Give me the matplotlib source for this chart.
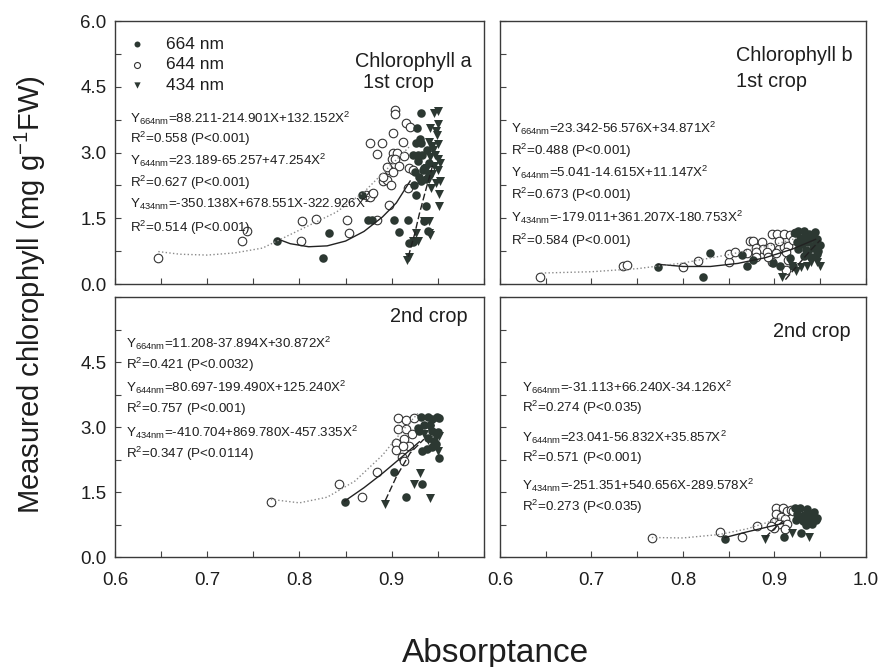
import matplotlib
matplotlib.use('Agg')
import matplotlib.pyplot as plt
from matplotlib.ticker import MultipleLocator

plt.rcParams['font.family'] = ['Liberation Sans', 'DejaVu Sans']
plt.rcParams['mathtext.fontset'] = 'custom'
plt.rcParams['mathtext.rm'] = 'Liberation Sans'
plt.rcParams['mathtext.it'] = 'Liberation Sans:italic'
plt.rcParams['mathtext.default'] = 'regular'

# ---- data ----
# Chlorophyll a, 1st crop (top left)
a1_664_x = [0.776, 0.825, 0.832, 0.868, 0.874, 0.879, 0.902, 0.908, 0.918, 0.919, 0.923, 0.924, 0.926, 0.937,
            0.939, 0.935, 0.926, 0.932, 0.923, 0.928, 0.933, 0.925, 0.930, 0.935, 0.940, 0.937, 0.932, 0.938,
            0.927, 0.929, 0.934, 0.940, 0.932, 0.931]
a1_664_y = [0.97, 0.60, 1.16, 2.03, 1.46, 1.46, 1.46, 1.19, 1.46, 0.94, 0.96, 2.26, 2.03, 1.77,
            1.20, 1.44, 3.22, 3.22, 2.94, 2.94, 2.94, 2.55, 2.45, 2.65, 2.75, 2.40, 2.35, 3.05,
            3.55, 2.80, 2.60, 2.50, 3.90, 3.30]
a1_644_x = [0.647, 0.738, 0.743, 0.802, 0.803, 0.818, 0.852, 0.854, 0.872, 0.879, 0.884, 0.877, 0.890, 0.884,
            0.891, 0.897, 0.877, 0.880, 0.895, 0.899, 0.891, 0.897, 0.901, 0.906, 0.900, 0.904, 0.908, 0.895,
            0.901, 0.912, 0.919, 0.923, 0.918, 0.901, 0.904, 0.904, 0.915, 0.920, 0.913]
a1_644_y = [0.60, 0.99, 1.22, 0.97, 1.44, 1.48, 1.46, 1.16, 2.02, 2.06, 1.46, 3.21, 3.21, 2.97,
            2.34, 1.80, 1.99, 2.08, 2.37, 2.26, 2.45, 2.60, 2.98, 2.98, 2.85, 2.85, 2.70, 2.68,
            2.55, 3.25, 2.65, 2.60, 2.19, 3.45, 3.97, 3.88, 3.68, 3.59, 2.93]
a1_434_x = [0.917, 0.919, 0.923, 0.928, 0.926, 0.935, 0.940, 0.940, 0.942, 0.951, 0.951, 0.952, 0.950, 0.946,
            0.950, 0.942, 0.948, 0.950, 0.944, 0.940, 0.947, 0.950, 0.942, 0.946, 0.950, 0.944, 0.940, 0.948,
            0.938, 0.945, 0.952, 0.943, 0.949]
a1_434_y = [0.55, 0.62, 0.97, 0.97, 1.16, 1.44, 1.44, 1.16, 1.12, 1.77, 2.05, 2.34, 3.95, 3.90,
            3.65, 3.55, 3.50, 3.20, 3.15, 3.25, 2.95, 2.85, 2.90, 2.70, 2.60, 2.50, 2.40, 2.30,
            2.65, 3.05, 2.75, 2.20, 3.40]
a1_fit_664_x = [0.776, 0.79, 0.81, 0.83, 0.85, 0.87, 0.89, 0.905, 0.92]
a1_fit_664_y = [1.03, 0.92, 0.85, 0.87, 0.98, 1.20, 1.53, 1.85, 2.35]
a1_fit_644_x = [0.647, 0.67, 0.70, 0.73, 0.76, 0.80, 0.84, 0.87, 0.90, 0.92]
a1_fit_644_y = [0.74, 0.68, 0.66, 0.71, 0.82, 1.23, 1.64, 2.10, 2.73, 3.15]
a1_fit_434_x = [0.918, 0.925, 0.930, 0.937, 0.945]
a1_fit_434_y = [0.62, 1.15, 1.60, 2.15, 2.75]

# Chlorophyll b, 1st crop (top right)
b1_664_x = [0.773, 0.822, 0.830, 0.864, 0.870, 0.877, 0.898, 0.906, 0.917, 0.922, 0.920, 0.926, 0.932, 0.938,
            0.944, 0.928, 0.935, 0.941, 0.947, 0.930, 0.937, 0.944, 0.950, 0.926, 0.934, 0.942, 0.948, 0.932,
            0.940, 0.946, 0.925]
b1_664_y = [0.38, 0.17, 0.70, 0.66, 0.40, 0.55, 0.49, 0.42, 0.59, 1.16, 0.42, 1.20, 1.22, 1.15,
            1.18, 1.05, 1.08, 1.05, 1.02, 0.92, 0.95, 0.90, 0.88, 0.80, 0.78, 0.82, 0.75, 0.65,
            0.62, 0.68, 0.95]
b1_644_x = [0.644, 0.735, 0.739, 0.800, 0.816, 0.850, 0.850, 0.873, 0.877, 0.886, 0.897, 0.903, 0.910, 0.917,
            0.922, 0.880, 0.888, 0.895, 0.905, 0.910, 0.915, 0.857, 0.870, 0.880, 0.892, 0.902, 0.913, 0.913,
            0.897, 0.915, 0.880, 0.893, 0.905, 0.920]
b1_644_y = [0.17, 0.41, 0.43, 0.38, 0.53, 0.51, 0.68, 0.97, 0.98, 0.96, 1.15, 1.13, 1.15, 1.12,
            1.16, 0.82, 0.80, 0.84, 0.80, 0.84, 0.86, 0.72, 0.70, 0.72, 0.72, 0.70, 0.72, 0.32,
            0.51, 0.55, 0.62, 0.62, 0.98, 1.00]
b1_434_x = [0.908, 0.919, 0.924, 0.929, 0.936, 0.940, 0.947, 0.950, 0.932, 0.944, 0.938]
b1_434_y = [0.15, 0.42, 0.30, 0.38, 0.42, 0.50, 0.51, 0.42, 1.00, 0.85, 0.70]
b1_fit_664_x = [0.773, 0.80, 0.83, 0.86, 0.89, 0.92, 0.945]
b1_fit_664_y = [0.45, 0.40, 0.40, 0.47, 0.60, 0.80, 1.02]
b1_fit_644_x = [0.645, 0.70, 0.75, 0.80, 0.85, 0.90, 0.925]
b1_fit_644_y = [0.25, 0.28, 0.35, 0.48, 0.67, 0.90, 1.05]
b1_fit_434_x = [0.912, 0.925, 0.94, 0.95]
b1_fit_434_y = [0.10, 0.42, 0.78, 1.00]

# Chlorophyll a, 2nd crop (bottom left)
a2_664_x = [0.849, 0.903, 0.915, 0.933, 0.928, 0.932, 0.939, 0.944, 0.949, 0.951, 0.935, 0.942, 0.930, 0.944,
            0.950, 0.939, 0.946, 0.933, 0.938, 0.944, 0.951, 0.948]
a2_664_y = [1.26, 1.96, 1.38, 1.68, 2.98, 3.22, 3.22, 3.18, 3.22, 3.20, 3.05, 3.05, 2.90, 2.90,
            2.88, 2.75, 2.68, 2.44, 2.50, 2.55, 2.28, 2.60]
a2_644_x = [0.769, 0.843, 0.868, 0.884, 0.907, 0.915, 0.924, 0.907, 0.916, 0.913, 0.905, 0.919, 0.905, 0.912,
            0.911, 0.922, 0.913]
a2_644_y = [1.26, 1.69, 1.38, 1.96, 3.21, 3.17, 3.21, 2.96, 2.95, 2.72, 2.62, 2.56, 2.47, 2.56,
            2.30, 2.83, 2.21]
a2_434_x = [0.893, 0.924, 0.931, 0.942, 0.941, 0.948, 0.945, 0.951, 0.950, 0.939, 0.935]
a2_434_y = [1.23, 1.68, 1.94, 1.36, 2.95, 2.75, 2.60, 2.80, 2.45, 2.70, 2.85]
a2_fit_664_x = [0.849, 0.87, 0.89, 0.91, 0.93]
a2_fit_664_y = [1.29, 1.60, 1.93, 2.29, 2.66]
a2_fit_644_x = [0.769, 0.80, 0.83, 0.86, 0.89, 0.915, 0.93]
a2_fit_644_y = [1.33, 1.25, 1.38, 1.75, 2.35, 3.00, 3.35]
a2_fit_434_x = [0.893, 0.905, 0.92, 0.935]
a2_fit_434_y = [1.30, 1.85, 2.40, 2.72]

# Chlorophyll b, 2nd crop (bottom right)
b2_664_x = [0.846, 0.910, 0.929, 0.922, 0.928, 0.936, 0.943, 0.925, 0.932, 0.939, 0.946, 0.924, 0.931, 0.938,
            0.945, 0.934, 0.941, 0.927]
b2_664_y = [0.42, 0.46, 0.55, 1.12, 1.14, 1.10, 1.05, 1.00, 0.97, 0.95, 0.90, 0.85, 0.82, 0.80,
            0.85, 0.75, 0.76, 0.92]
b2_644_x = [0.766, 0.840, 0.864, 0.881, 0.902, 0.909, 0.914, 0.918, 0.902, 0.907, 0.912, 0.900, 0.905, 0.914,
            0.900, 0.911, 0.920, 0.896]
b2_644_y = [0.44, 0.57, 0.46, 0.71, 1.14, 1.12, 1.07, 1.09, 0.99, 0.92, 0.88, 0.80, 0.77, 0.76,
            0.68, 0.64, 1.06, 0.72]
b2_434_x = [0.890, 0.919, 0.938, 0.934, 0.941]
b2_434_y = [0.42, 0.55, 0.46, 0.95, 0.82]
b2_fit_664_x = [0.846, 0.87, 0.89, 0.91]
b2_fit_664_y = [0.45, 0.58, 0.68, 0.78]
b2_fit_644_x = [0.766, 0.80, 0.84, 0.87, 0.90, 0.915]
b2_fit_644_y = [0.45, 0.44, 0.52, 0.65, 0.85, 0.98]
b2_fit_434_x = [0.89, 0.90, 0.91]
b2_fit_434_y = [0.45, 0.66, 0.84]

eq_a1 = [r'Y$_{664nm}$=88.211-214.901X+132.152X$^2$', r'R$^2$=0.558 (P<0.001)',
         r'Y$_{644nm}$=23.189-65.257+47.254X$^2$', r'R$^2$=0.627 (P<0.001)',
         r'Y$_{434nm}$=-350.138X+678.551X-322.926X$^2$', r'R$^2$=0.514 (P<0.001)']
eq_b1 = [r'Y$_{664nm}$=23.342-56.576X+34.871X$^2$', r'R$^2$=0.488 (P<0.001)',
         r'Y$_{644nm}$=5.041-14.615X+11.147X$^2$', r'R$^2$=0.673 (P<0.001)',
         r'Y$_{434nm}$=-179.011+361.207X-180.753X$^2$', r'R$^2$=0.584 (P<0.001)']
eq_a2 = [r'Y$_{664nm}$=11.208-37.894X+30.872X$^2$', r'R$^2$=0.421 (P<0.0032)',
         r'Y$_{644nm}$=80.697-199.490X+125.240X$^2$', r'R$^2$=0.757 (P<0.001)',
         r'Y$_{434nm}$=-410.704+869.780X-457.335X$^2$', r'R$^2$=0.347 (P<0.0114)']
eq_b2 = [r'Y$_{664nm}$=-31.113+66.240X-34.126X$^2$', r'R$^2$=0.274 (P<0.035)',
         r'Y$_{644nm}$=23.041-56.832X+35.857X$^2$', r'R$^2$=0.571 (P<0.001)',
         r'Y$_{434nm}$=-251.351+540.656X-289.578X$^2$', r'R$^2$=0.273 (P<0.035)']

series_labels = ['664 nm', '644 nm', '434 nm']
x_ticks = [0.6, 0.7, 0.8, 0.9, 1.0]
y_ticks = [0.0, 1.5, 3.0, 4.5, 6.0]

dark = '#2c3832'
txt = '#1e1e1e'


def draw_panel(ax, p664, p644, p434, f664, f644, f434, eqs, eq_x, eq_y):
    ax.scatter(p644[0], p644[1], s=38, facecolor='white', edgecolor='#333333', linewidth=0.8, zorder=2, label=series_labels[1])
    ax.scatter(p664[0], p664[1], s=38, color=dark, linewidth=0, zorder=3, label=series_labels[0])
    ax.scatter(p434[0], p434[1], s=42, marker='v', color=dark, linewidth=0, zorder=4, label=series_labels[2])
    ax.plot(f664[0], f664[1], color='#222222', linewidth=1.0, zorder=5)
    ax.plot(f644[0], f644[1], color='#8a8a8a', linewidth=1.0, linestyle=':', zorder=5)
    ax.plot(f434[0], f434[1], color='#222222', linewidth=1.0, linestyle=(0, (5, 2)), zorder=5)

    for s, yy in zip(eqs, eq_y):
        ax.text(eq_x, yy, s, transform=ax.transAxes, fontsize=9.6, color=txt, va='center', ha='left', zorder=6)

    ax.set_xlim(0.6, 1.0)
    ax.set_ylim(0, 6)
    ax.set_xticks(x_ticks)
    ax.set_yticks(y_ticks)
    ax.xaxis.set_minor_locator(MultipleLocator(0.05))
    ax.yaxis.set_minor_locator(MultipleLocator(0.75))
    ax.tick_params(which='both', direction='in', length=4, width=0.8, color='#444444',
                   top=False, right=False, labelsize=13.5, labelcolor=txt)
    ax.tick_params(axis='x', pad=11)
    ax.tick_params(axis='y', pad=6)
    for sp in ax.spines.values():
        sp.set_color('#3a3a3a')
        sp.set_linewidth(1.0)


fig = plt.figure(figsize=(8.81, 6.67), dpi=100)
fig.patch.set_facecolor('white')

ax0 = fig.add_axes([0.1305, 0.5742, 0.4188, 0.3943])
ax1 = fig.add_axes([0.5675, 0.5742, 0.4154, 0.3943])
ax2 = fig.add_axes([0.1305, 0.1649, 0.4188, 0.3898])
ax3 = fig.add_axes([0.5675, 0.1649, 0.4154, 0.3898])

draw_panel(ax0, (a1_664_x, a1_664_y), (a1_644_x, a1_644_y), (a1_434_x, a1_434_y),
           (a1_fit_664_x, a1_fit_664_y), (a1_fit_644_x, a1_fit_644_y), (a1_fit_434_x, a1_fit_434_y),
           eq_a1, 0.042, [0.631, 0.553, 0.470, 0.386, 0.306, 0.213])
draw_panel(ax1, (b1_664_x, b1_664_y), (b1_644_x, b1_644_y), (b1_434_x, b1_434_y),
           (b1_fit_664_x, b1_fit_664_y), (b1_fit_644_x, b1_fit_644_y), (b1_fit_434_x, b1_fit_434_y),
           eq_b1, 0.029, [0.590, 0.507, 0.423, 0.340, 0.252, 0.163])
draw_panel(ax2, (a2_664_x, a2_664_y), (a2_644_x, a2_644_y), (a2_434_x, a2_434_y),
           (a2_fit_664_x, a2_fit_664_y), (a2_fit_644_x, a2_fit_644_y), (a2_fit_434_x, a2_fit_434_y),
           eq_a2, 0.030, [0.823, 0.738, 0.654, 0.570, 0.481, 0.397])
draw_panel(ax3, (b2_664_x, b2_664_y), (b2_644_x, b2_644_y), (b2_434_x, b2_434_y),
           (b2_fit_664_x, b2_fit_664_y), (b2_fit_644_x, b2_fit_644_y), (b2_fit_434_x, b2_fit_434_y),
           eq_b2, 0.059, [0.654, 0.574, 0.462, 0.382, 0.277, 0.192])

# tick labels only where the original shows them
ax0.set_xticklabels([])
ax1.set_xticklabels([])
ax1.set_yticklabels([])
ax3.set_yticklabels([])
ax0.set_yticklabels(['%.1f' % v for v in y_ticks])
ax2.set_yticklabels(['%.1f' % v for v in y_ticks[:-1]] + [''])
ax2.set_xticklabels(['%.1f' % v for v in x_ticks[:-1]] + [''])
ax3.set_xticklabels(['%.1f' % v for v in x_ticks])

# panel titles
ax0.text(0.650, 0.825, 'Chlorophyll a', transform=ax0.transAxes, fontsize=14.3, color=txt, va='baseline')
ax0.text(0.672, 0.745, '1st crop', transform=ax0.transAxes, fontsize=14.3, color=txt, va='baseline')
ax1.text(0.645, 0.848, 'Chlorophyll b', transform=ax1.transAxes, fontsize=14.3, color=txt, va='baseline')
ax1.text(0.645, 0.749, '1st crop', transform=ax1.transAxes, fontsize=14.3, color=txt, va='baseline')
ax2.text(0.745, 0.904, '2nd crop', transform=ax2.transAxes, fontsize=14.3, color=txt, va='baseline')
ax3.text(0.746, 0.846, '2nd crop', transform=ax3.transAxes, fontsize=14.3, color=txt, va='baseline')

handles, labels = ax0.get_legend_handles_labels()
order = [1, 0, 2]
ax0.legend([handles[i] for i in order], [labels[i] for i in order],
           loc='upper left', bbox_to_anchor=(0.035, 0.94), frameon=False,
           fontsize=12.5, markerscale=0.7, handlelength=1.0, handletextpad=1.2,
           labelspacing=0.3, borderpad=0, borderaxespad=0, labelcolor=txt)

fig.text(0.034, 0.558, 'Measured chlorophyll (mg g$^{-1}$FW)', rotation=90, fontsize=21,
         color=txt, ha='center', va='center')
fig.text(0.562, 0.008, 'Absorptance', fontsize=24, color=txt, ha='center', va='baseline')

plt.savefig('out.png', dpi=100, facecolor='white')
